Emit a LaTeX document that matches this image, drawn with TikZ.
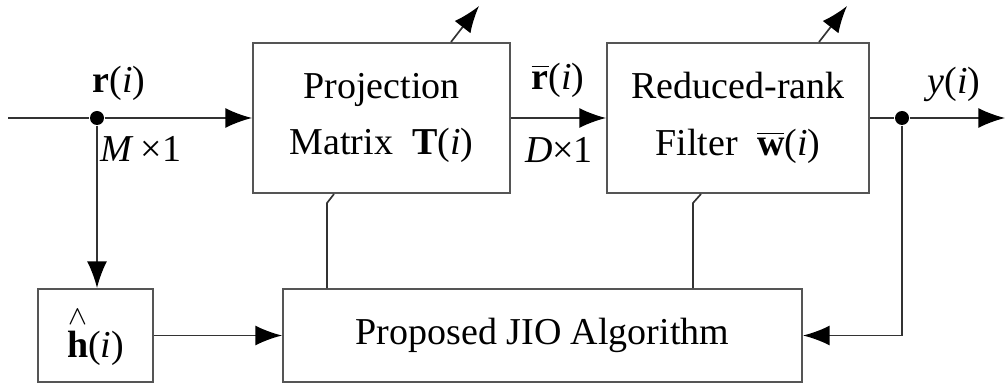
\documentclass[tikz,border=0pt]{standalone}
\usepackage{fontspec}
\setmainfont{Liberation Serif}
\usetikzlibrary{arrows.meta,calc,positioning}
\definecolor{Wire}{HTML}{333333}
\definecolor{Edge}{HTML}{555555}

\begin{document}
\begin{tikzpicture}[x=.3pt,y=-.3pt,font=\fontsize{11.4}{17}\selectfont,
        blk/.style={draw=Edge,line width=.6pt,minimum width=#1,align=center,inner sep=0pt},
        wire/.style={draw=Wire,line width=.5pt},
        sig/.style={wire,-{Latex[length=8pt,width=6pt,black]}},
        dot/.style={circle,fill=black,inner sep=0pt,minimum size=4.2pt}]
        \useasboundingbox(0,0)rectangle(1007,383);
        % blocks
        \node[blk=77.1pt,minimum height=45pt](proj)at(381.5,118){Projection\\Matrix~~\textbf{T}(\textit{i})};
        \node[blk=78.6pt,minimum height=45pt](filt)at(738,118){Reduced-rank\\Filter~~$\overline{\textbf{w}}$(\textit{i})};
        \node[blk=155.7pt,minimum height=27.9pt](alg)at(542.5,335.5){Proposed JIO Algorithm};
        \node[blk=34.5pt,minimum height=27.9pt](est)at(95.5,335.5){$\stackrel{\wedge}{\textbf{h}}$(\textit{i})};
        % signal path
        \coordinate(in)at(8,118);
        \node[dot](split)at(97,118){};
        \node[dot](tap)at(902,118){};
        \coordinate(out)at(1005,118);
        \draw[wire](in)--(split);
        \draw[sig](split)--(proj);
        \draw[sig](proj)--(filt);
        \draw[wire](filt)--(tap);
        \draw[sig](tap)--(out);
        \draw[sig](split)--(split|-est.north);
        \draw[sig](est)--(alg);
        \draw[sig](tap)|-(alg);
        % control lines
        \coordinate(k1)at(327,203);
        \coordinate(k2)at(693,203);
        \draw[wire](alg.north-|k1)--(k1)--($(proj.south-|k1)+(7,0)$);
        \draw[wire](alg.north-|k2)--(k2)--($(filt.south-|k2)+(8,0)$);
        \draw[sig]($(proj.north west)+(199,0)$)--++(28,-36);
        \draw[sig]($(filt.north west)+(213,0)$)--++(28,-36);
        % labels
        \node(rin)at(119,83){\textbf{r}(\textit{i})};
        \node(dimM)at(141,149){\textit{M}\,×1};
        \node(rbar)at(558,80){$\overline{\textbf{r}}$(\textit{i})};
        \node(dimD)at(559,150){\textit{D}×1};
        \node(yout)at(954,84){\textit{y}(\textit{i})};
      \end{tikzpicture}
\end{document}
